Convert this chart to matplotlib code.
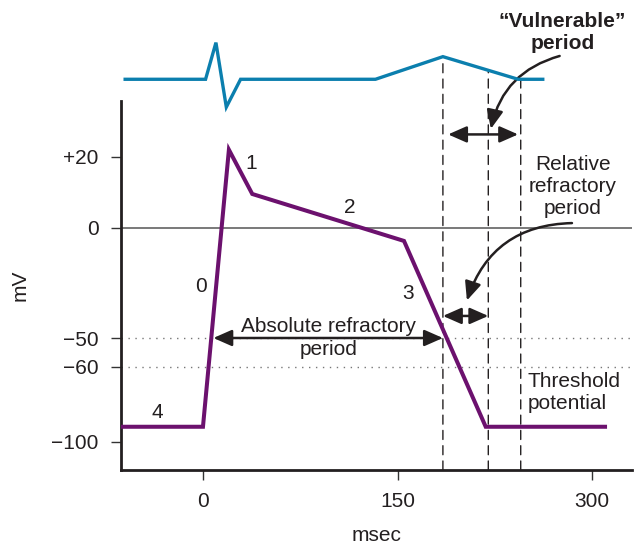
import numpy as np
import matplotlib
matplotlib.use("Agg")
import matplotlib.pyplot as plt
from matplotlib.patches import ConnectionPatch

plt.rcParams["font.family"] = ["Liberation Sans", "DejaVu Sans"]
plt.rcParams["axes.unicode_minus"] = True

# ventricular action potential (msec, mV)
ap_t = [-62, 0, 20, 38, 155, 218, 310]
ap_mv = [-92, -92, 22, 9.5, -6, -92, -92]

# surface ECG drawn above (msec, arbitrary units)
ecg_t = [-60, 2, 10, 18, 29, 133, 185, 243, 262]
ecg_v = [0, 0, 1.62, -1.23, 0, 0, 1.0, 0, 0]

x_ticks = [0, 150, 300]
y_ticks = [20, 0, -50, -60, -100]
y_tick_labels = ["+20", "0", "\u221250", "\u221260", "\u2212100"]

boundary_t = [185, 220, 245]      # end of absolute / relative / vulnerable
threshold_mv = [-50, -60]

# phase numbers (label, msec, mV)
phases = [("0", -1.5, -26.5), ("1", 37, 18), ("2", 113, 5.8), ("3", 158, -30), ("4", -35, -84.6)]

# the illustration's voltage axis is not uniform: breakpoints -> relative height
y_breaks = [-115, -100, -60, -50, 0, 20, 36]
y_span = [0, 28.3, 103, 132, 242.3, 313.3, 369]

INK = "#231f20"
PURPLE = "#6c116e"
BLUE = "#0b7fae"


def _piecewise(xp, fp):
    xp = np.asarray(xp, float)
    fp = np.asarray(fp, float)
    lo_s = (fp[1] - fp[0]) / (xp[1] - xp[0])
    hi_s = (fp[-1] - fp[-2]) / (xp[-1] - xp[-2])

    def f(v):
        v = np.asarray(v, float)
        out = np.interp(v, xp, fp)
        out = np.where(v < xp[0], fp[0] + (v - xp[0]) * lo_s, out)
        out = np.where(v > xp[-1], fp[-1] + (v - xp[-1]) * hi_s, out)
        return out

    return f


fig = plt.figure(figsize=(6.38, 5.46), dpi=100)
W, H = 638, 546
ax = fig.add_axes([121 / W, 1 - 470 / H, 511 / W, 369 / H])
ecg = fig.add_axes([121 / W, 1 - 101 / H, 511 / W, 81 / H])

xlim = (-63.2, 330.8)
ax.set_yscale("function", functions=(_piecewise(y_breaks, y_span), _piecewise(y_span, y_breaks)))
ax.set_xlim(*xlim)
ax.set_ylim(y_breaks[0], y_breaks[-1])

ax.axhline(0, color="#555555", lw=1.1, zorder=1)
for v in threshold_mv:
    ax.axhline(v, color="#777777", lw=1.0, ls=(0, (1, 4)), zorder=1)

ax.plot(ap_t, ap_mv, color=PURPLE, lw=2.9, solid_joinstyle="miter", zorder=3)

ax.set_xticks(x_ticks)
ax.set_yticks(y_ticks, labels=y_tick_labels)
ax.tick_params(direction="out", length=7, width=1.0, color="#333333", labelsize=15,
               labelcolor=INK, pad=9)
for s in ["top", "right"]:
    ax.spines[s].set_visible(False)
for s in ["left", "bottom"]:
    ax.spines[s].set_linewidth(2.0)
    ax.spines[s].set_color(INK)

ax.set_xlabel("msec", fontsize=15, color=INK)
ax.set_ylabel("mV", fontsize=15, color=INK)
ax.xaxis.set_label_coords(0.5, -0.152)
ax.yaxis.set_label_coords(-0.178, 0.5)

# ECG
ecg.set_xlim(*xlim)
ecg.set_ylim(-0.96, 2.62)
ecg.axis("off")
ecg.plot(ecg_t, ecg_v, color=BLUE, lw=2.4, clip_on=False, solid_joinstyle="miter")

# dashed boundary lines, from the time axis up to the ECG
for t in boundary_t:
    top = float(np.interp(t, ecg_t, ecg_v)) - 0.05
    con = ConnectionPatch(xyA=(t, y_breaks[0]), coordsA=ax.transData,
                          xyB=(t, top), coordsB=ecg.transData,
                          color=INK, lw=1.0, ls=(0, (6.5, 4.5)),
                          shrinkA=0, shrinkB=0)
    ax.add_artist(con)
    con.set_clip_on(False)
    con.set_zorder(2)

for lab, t, v in phases:
    ax.text(t, v, lab, fontsize=15, color=INK, ha="center", va="center")

dbl = dict(arrowstyle="<|-|>,head_length=0.75,head_width=0.33", mutation_scale=15,
           lw=1.8, color=INK, shrinkA=0, shrinkB=0)
one = dict(arrowstyle="-|>,head_length=0.75,head_width=0.33", mutation_scale=15,
           lw=1.8, color=INK, shrinkA=0, shrinkB=0)

# absolute refractory period
ax.annotate("", xy=(boundary_t[0], -50), xytext=(8, -50), arrowprops=dbl, zorder=4)
ax.text(97, -50, "Absolute refractory\nperiod", fontsize=15, color=INK,
        ha="center", va="center", linespacing=1.25)

# relative refractory period
ax.annotate("", xy=(boundary_t[1], -40), xytext=(boundary_t[0], -40), arrowprops=dbl, zorder=4)
ax.text(285, 11.5, "Relative\nrefractory\nperiod", fontsize=15, color=INK,
        ha="center", va="center", linespacing=1.2)
ax.annotate("", xy=(203.5, -33), xytext=(284.5, 1.3), arrowprops=dict(one, connectionstyle="arc3,rad=0.35"),
            annotation_clip=False, zorder=4)

# vulnerable period
ax.annotate("", xy=(243, 26.4), xytext=(189, 26.4), arrowprops=dbl, annotation_clip=False, zorder=4)
ecg.text(277, 2.05, "\u201cVulnerable\u201d\nperiod", fontsize=15, fontweight="bold", color=INK,
         ha="center", va="center", linespacing=1.2, clip_on=False)
ax.annotate("", xy=(222, 28), xytext=(275, 1.03), textcoords=ecg.transData,
            arrowprops=dict(one, connectionstyle="arc3,rad=0.3"),
            annotation_clip=False, zorder=4)

# threshold
ax.text(250, -73.4, "Threshold\npotential", fontsize=15, color=INK,
        ha="left", va="center", linespacing=1.2)

fig.savefig("out.png", dpi=100)
